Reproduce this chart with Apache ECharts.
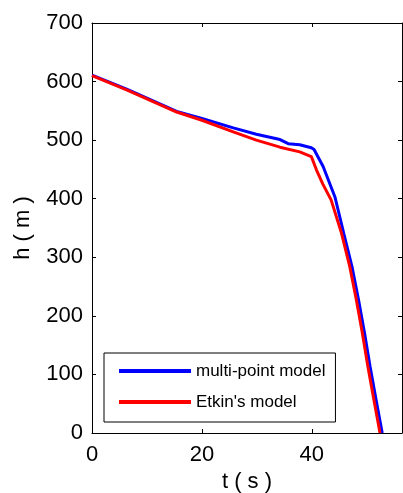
<!DOCTYPE html>
<html>
<head>
<meta charset="utf-8">
<script src="https://cdn.jsdelivr.net/npm/echarts@6/dist/echarts.min.js"></script>
<style>
  html, body { margin: 0; padding: 0; background: #fff; }
  #main { width: 403px; height: 493px; }
</style>
</head>
<body>
<div id="main"></div>
<script>
// time (s) and height (m)
var tBlue = [0, 6.3, 15.4, 20, 25.7, 29.9, 34.2, 35.7, 37.8, 39.9, 40.4, 42.05, 44.2, 45.8, 47.3, 48.5, 49.6, 50.6, 51.7, 52.8];
var hBlue = [611, 587, 549, 537, 521, 510, 501, 494, 492, 487, 484, 455, 403, 341, 284, 227, 170, 113, 56, 0];
var tRed = [0, 6.3, 15.4, 20, 25.7, 29.9, 34.2, 37.8, 39.9, 40.85, 42.0, 43.5, 45.4, 46.9, 48.1, 49.2, 50.2, 51.3, 52.4];
var hRed = [610, 586, 548, 534, 514, 500, 488, 480, 472, 449, 425, 398, 341, 284, 227, 170, 113, 56, 0];
var seriesNames = ['multi-point model', "Etkin's model"];

function pairs(xs, ys) {
  var out = [];
  for (var i = 0; i < xs.length; i++) out.push([xs[i], ys[i]]);
  return out;
}

var chart = echarts.init(document.getElementById('main'));
var font = 'Liberation Sans, Arial, sans-serif';
var tick = { show: true, inside: true, length: 4, lineStyle: { color: '#000', width: 1 } };
var line = { show: true, onZero: false, lineStyle: { color: '#000', width: 1 } };

var option = {
  backgroundColor: '#ffffff',
  animation: false,
  grid: { left: 92, right: 1, top: 23, bottom: 60, outerBoundsMode: 'none', containLabel: false },
  legend: {
    left: 104,
    top: 353,
    orient: 'vertical',
    data: seriesNames,
    icon: 'rect',
    itemWidth: 72,
    itemHeight: 4,
    itemGap: 11,
    padding: [8, 10, 10, 15],
    borderColor: '#000',
    borderWidth: 1,
    backgroundColor: '#fff',
    textStyle: { fontFamily: font, fontSize: 17, color: '#000', lineHeight: 20 }
  },
  xAxis: [{
    type: 'value',
    position: 'bottom',
    min: 0,
    max: 56.4,
    interval: 20,
    name: 't ( s )',
    nameLocation: 'middle',
    nameGap: 37,
    nameTextStyle: { fontFamily: font, fontSize: 22, color: '#000' },
    axisLine: line,
    axisTick: tick,
    axisLabel: { fontFamily: font, fontSize: 22, color: '#000', margin: 11, showMaxLabel: false },
    splitLine: { show: false }
  }, {
    type: 'value',
    position: 'top',
    min: 0,
    max: 56.4,
    interval: 20,
    axisLine: line,
    axisTick: tick,
    axisLabel: { show: false },
    splitLine: { show: false }
  }],
  yAxis: [{
    type: 'value',
    position: 'left',
    min: 0,
    max: 700,
    interval: 100,
    name: 'h ( m )',
    nameLocation: 'middle',
    nameGap: 58,
    nameTextStyle: { fontFamily: font, fontSize: 22, color: '#000' },
    axisLine: line,
    axisTick: tick,
    axisLabel: { fontFamily: font, fontSize: 22, color: '#000', margin: 9 },
    splitLine: { show: false }
  }, {
    type: 'value',
    position: 'right',
    min: 0,
    max: 700,
    interval: 100,
    axisLine: line,
    axisTick: tick,
    axisLabel: { show: false },
    splitLine: { show: false }
  }],
  series: [{
    name: seriesNames[0],
    type: 'line',
    data: pairs(tBlue, hBlue),
    showSymbol: false,
    lineStyle: { color: '#0000ff', width: 3 },
    itemStyle: { color: '#0000ff' },
    z: 2
  }, {
    name: seriesNames[1],
    type: 'line',
    data: pairs(tRed, hRed),
    showSymbol: false,
    lineStyle: { color: '#ff0000', width: 3 },
    itemStyle: { color: '#ff0000' },
    z: 3
  }]
};
chart.setOption(option);
</script>
</body>
</html>
